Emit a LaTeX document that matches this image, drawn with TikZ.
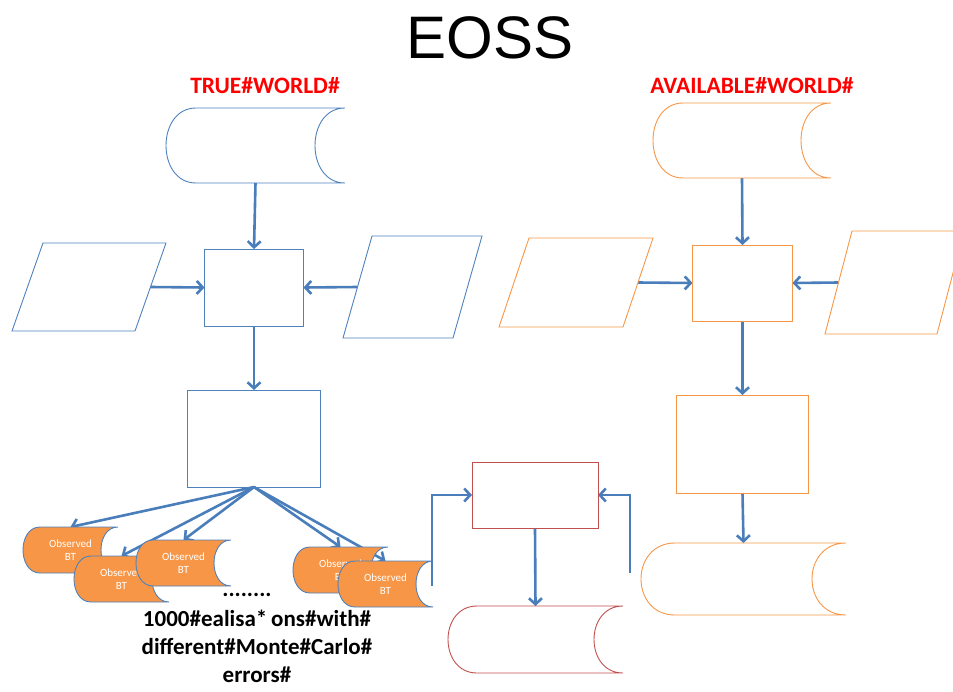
\documentclass[tikz,border=0pt]{standalone}
\usepackage{fontspec}
\setmainfont{Carlito}
\newfontfamily\titlefont{Liberation Sans}
\usetikzlibrary{arrows.meta, backgrounds, calc}
\definecolor{tblue}{HTML}{4F81BD}
\definecolor{torange}{HTML}{F79646}
\definecolor{tred}{HTML}{C0504D}
\definecolor{lblred}{HTML}{FF0000}
\definecolor{flowblue}{HTML}{4A7EBB}
\tikzset{
  % base invisibile delle forme
  shapebase/.style={rectangle, inner sep=0pt, outer sep=0pt},
  % tratti delle forme
  tline/.style={draw=tblue, line width=0.9pt},
  aline/.style={draw=torange, line width=0.9pt},
  cline/.style={draw=tred, line width=0.9pt},
  btline/.style={draw=tblue, line width=0.9pt, fill=torange},
  % processi
  tbox/.style={shapebase, tline},
  abox/.style={shapebase, aline},
  cbox/.style={shapebase, cline},
  % archivio BT osservato
  btshape/.style={shapebase, minimum width=95pt, minimum height=46pt},
  btlbl/.style={font=\fontsize{11}{13}\selectfont, text=white, align=center},
  % frecce
  flow/.style={draw=flowblue, line width=2.6pt, -{Straight Barb[length=6pt, width=13pt]}},
  % etichette
  titolo/.style={font=\titlefont\fontsize{60}{60}\selectfont},
  mondo/.style={font=\bfseries\fontsize{23.5}{23.5}\selectfont, text=lblred},
  nota/.style={font=\bfseries\fontsize{23}{28}\selectfont, align=center, inner sep=0pt},
}
% archivio: nome, profondita, stile
\newcommand\storebox[3]{%
  \path[#3] (#1.north east) -- ([xshift=#2]#1.north west)
    .. controls ([xshift=-#2/3]#1.north west) and ([xshift=-#2/3]#1.south west) .. ([xshift=#2]#1.south west)
    -- (#1.south east)
    .. controls ([xshift=-#2*4/3]#1.south east) and ([xshift=-#2*4/3]#1.north east) .. (#1.north east) -- cycle;}
% dati: nome, inclinazione, stile
\newcommand\parabox[3]{%
  \path[#3] (#1.south west) -- ([xshift=#2]#1.north west) -- (#1.north east)
    -- ([xshift=-#2]#1.south east) -- cycle;
  \coordinate (#1-l) at ([xshift=#2/2]#1.west);
  \coordinate (#1-r) at ([xshift=-#2/2]#1.east);}

\begin{document}
\begin{tikzpicture}[x=1pt, y=-1pt]
  \path[use as bounding box, clip] (0,0) rectangle (953,691);
  \node[titolo] (eoss) at (490,38) {EOSS};
  \node[mondo] (ltrue) at (265,86) {TRUE\#WORLD\#};
  \node[mondo] (lavail) at (752,86) {AVAILABLE\#WORLD\#};

  \node[shapebase, minimum width=179pt, minimum height=75pt] (tw) at (255.5,145.5) {};
  \storebox{tw}{30pt}{tline}
  \node[tbox, minimum width=99pt, minimum height=77pt] (tproc) at (254,287.5) {};
  \node[shapebase, minimum width=154pt, minimum height=88pt] (tinl) at (89,287) {};
  \parabox{tinl}{31pt}{tline}
  \node[shapebase, minimum width=139pt, minimum height=102pt] (tinr) at (412.5,287) {};
  \parabox{tinr}{29pt}{tline}
  \node[tbox, minimum width=133pt, minimum height=97pt] (tmod) at (254,438.5) {};

  \node[shapebase, minimum width=178pt, minimum height=75pt] (aw) at (742,140.5) {};
  \storebox{aw}{30pt}{aline}
  \node[abox, minimum width=100pt, minimum height=76pt] (aproc) at (742.5,283) {};
  \node[shapebase, minimum width=154pt, minimum height=89pt] (ainl) at (576,282.5) {};
  \parabox{ainl}{30pt}{aline}
  \node[shapebase, minimum width=139pt, minimum height=103pt] (ainr) at (894.5,282.5) {};
  \parabox{ainr}{27pt}{aline}
  \node[abox, minimum width=132pt, minimum height=98pt] (amod) at (742.5,444) {};
  \node[shapebase, minimum width=205pt, minimum height=72pt] (aout) at (743.5,579) {};
  \storebox{aout}{34pt}{aline}

  \node[cbox, minimum width=126pt, minimum height=66pt] (cmp) at (535,495) {};
  \node[shapebase, minimum width=175pt, minimum height=67pt] (res) at (535.5,639.5) {};
  \storebox{res}{29pt}{cline}
  \coordinate (cl) at (432,586);
  \coordinate (cr) at (630,573);

  \foreach \n/\x/\y in {bta/70.5/550, btb/121.5/579, btc/183.5/563, btd/340.5/570, bte/385.5/584} {
    \node[btshape] (\n) at (\x,\y) {};
    \storebox{\n}{17pt}{btline}
    \node[btlbl] (\n-t) at (\n.center) {Observed\\BT};
  }
  \node[nota] (dots) at (247,595) {........};
  \node[nota] (nota) at (257,646) {1000\#ealisa*\,ons\#with\#\\different\#Monte\#Carlo\#\\errors\#};

  \begin{scope}[on background layer]
    \draw[flow] (tw.south) -- (tproc.north);
    \draw[flow] (tinl-r) -- (tproc.west);
    \draw[flow] (tinr-l) -- (tproc.east);
    \draw[flow] (tproc.south) -- (tmod.north);
    \foreach \n in {bta,btb,btc,btd,bte}
      \draw[flow] (tmod.south) -- (\n.north);
    \draw[flow] (aw.south) -- (aproc.north);
    \draw[flow] (ainl-r) -- (aproc.west);
    \draw[flow] (ainr-l) -- (aproc.east);
    \draw[flow] (aproc.south) -- (amod.north);
    \draw[flow] (amod.south) -- (aout.north);
    \draw[flow] (cl) |- (cmp.west);
    \draw[flow] (cr) |- (cmp.east);
    \draw[flow] (cmp.south) -- (res.north);
  \end{scope}
\end{tikzpicture}
\end{document}
